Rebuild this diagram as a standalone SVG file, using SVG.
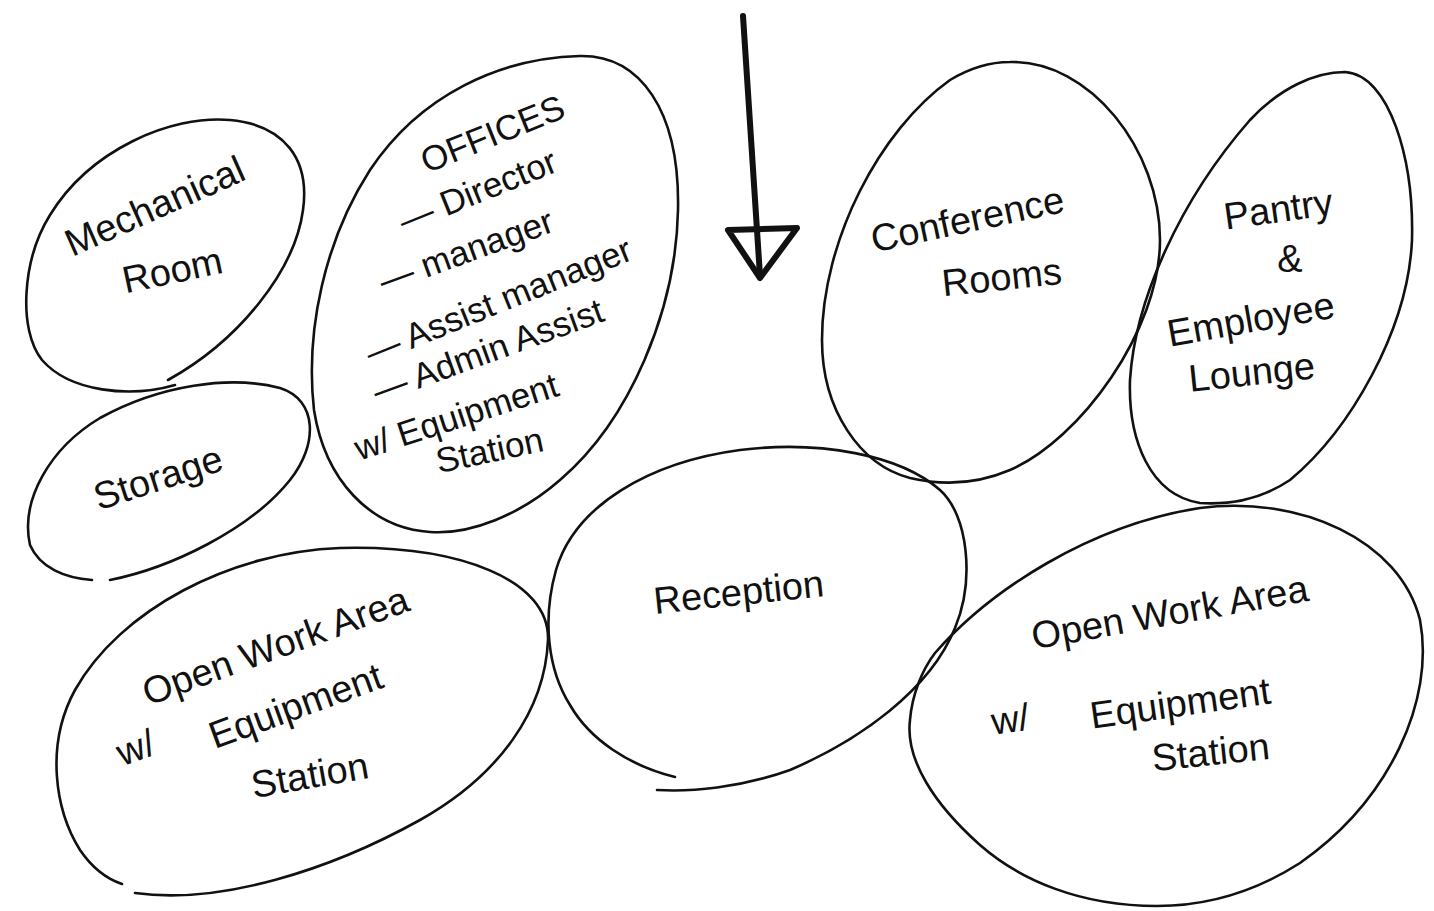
<svg xmlns="http://www.w3.org/2000/svg" width="1434" height="911" viewBox="0 0 1434 911">
<style>
.b{fill:none;stroke:#111;stroke-width:2.6;stroke-linecap:round;stroke-linejoin:round}
.t{font-family:"Liberation Sans","DejaVu Sans",sans-serif;font-size:38px;fill:#111;text-anchor:middle}
.s{font-size:35px}
.a{fill:none;stroke:#111;stroke-width:6;stroke-linecap:round;stroke-linejoin:round}
</style>
<rect width="1434" height="911" fill="#fff"/>
<g id="mechanical">
<path class="b" d="M175 385 C130 398 70 392 42 360 C18 330 22 260 50 215 C90 150 170 115 230 120 C285 125 310 160 303 210 C295 270 240 340 168 380"/>
<text class="t" transform="translate(160 218) rotate(-24)">Mechanical</text>
<text class="t" transform="translate(175 283) rotate(-12)">Room</text>
</g>
<g id="storage">
<path class="b" d="M110 580 C170 568 250 530 290 480 C318 445 318 400 280 388 C230 375 160 385 100 418 C50 448 20 500 30 545 C40 568 65 578 92 580"/>
<text class="t" transform="translate(162 490) rotate(-18)">Storage</text>
</g>
<g id="offices">
<path class="b" d="M580 56 C640 55 680 110 678 210 C676 310 630 420 560 480 C520 515 470 535 430 532 C370 528 325 480 314 410 C305 330 325 240 370 170 C420 95 500 58 580 56 Z"/>
<text class="t s" transform="translate(497 145) rotate(-22)">OFFICES</text>
<text class="t s" transform="translate(482 202) rotate(-22)">— Director</text>
<text class="t s" transform="translate(470 262) rotate(-20)">—  manager</text>
<text class="t s" transform="translate(503 312) rotate(-22)">— Assist manager</text>
<text class="t s" transform="translate(492 362) rotate(-20)">— Admin Assist</text>
<text class="t s" transform="translate(460 428) rotate(-18)">w/ Equipment</text>
<text class="t s" transform="translate(492 462) rotate(-12)">Station</text>
</g>
<g id="conference">
<path class="b" d="M1010 62 C1090 60 1160 150 1160 240 C1160 330 1080 440 1010 470 C975 485 940 485 910 478 C860 465 822 410 822 340 C822 240 880 130 950 80 C970 68 990 62 1010 62 Z"/>
<text class="t" transform="translate(970 232) rotate(-12)">Conference</text>
<text class="t" transform="translate(1003 290) rotate(-6)">Rooms</text>
</g>
<g id="pantry">
<path class="b" d="M1345 72 C1390 75 1414 160 1412 240 C1408 330 1350 430 1290 480 C1260 500 1230 505 1200 503 C1150 495 1128 440 1130 380 C1135 300 1180 200 1250 120 C1280 88 1315 72 1345 72 Z"/>
<text class="t" transform="translate(1280 222) rotate(-8)">Pantry</text>
<text class="t" transform="translate(1290 272)">&amp;</text>
<text class="t" transform="translate(1253 332) rotate(-10)">Employee</text>
<text class="t" transform="translate(1253 385) rotate(-6)">Lounge</text>
</g>
<g id="reception">
<path class="b" d="M675 777 C630 766 590 740 570 705 C548 670 542 620 556 570 C575 505 650 462 740 450 C820 440 900 455 940 490 C968 515 975 580 955 628 C930 690 860 740 790 770 C740 788 690 792 657 790"/>
<text class="t" transform="translate(740 605) rotate(-6)">Reception</text>
</g>
<g id="openwork-left">
<path class="b" d="M135 893 C220 905 330 870 420 820 C500 775 545 710 548 640 C550 580 460 545 340 548 C230 552 120 610 75 690 C45 745 55 810 80 850 C95 872 110 880 122 884"/>
<text class="t" transform="translate(280 658) rotate(-20)">Open Work Area</text>
<text class="t" transform="translate(140 760) rotate(-20)">w/</text>
<text class="t" transform="translate(300 718) rotate(-20)">Equipment</text>
<text class="t" transform="translate(312 788) rotate(-10)">Station</text>
</g>
<g id="openwork-right">
<path class="b" d="M935 653 C990 590 1090 525 1200 508 C1300 495 1400 540 1420 620 C1435 700 1390 800 1300 863 C1250 895 1200 906 1157 906 C1080 906 1020 880 980 845 C935 805 905 760 910 720 C912 695 922 670 935 653 Z"/>
<text class="t" transform="translate(1172 625) rotate(-10)">Open Work Area</text>
<text class="t" transform="translate(1012 732) rotate(-8)">w/</text>
<text class="t" transform="translate(1182 716) rotate(-8)">Equipment</text>
<text class="t" transform="translate(1212 765) rotate(-6)">Station</text>
</g>
<g id="connectors">
<path class="a" d="M743 16 L760 276"/>
<path class="a" d="M728 230 L797 228 L760 278 Z"/>
</g>
</svg>
